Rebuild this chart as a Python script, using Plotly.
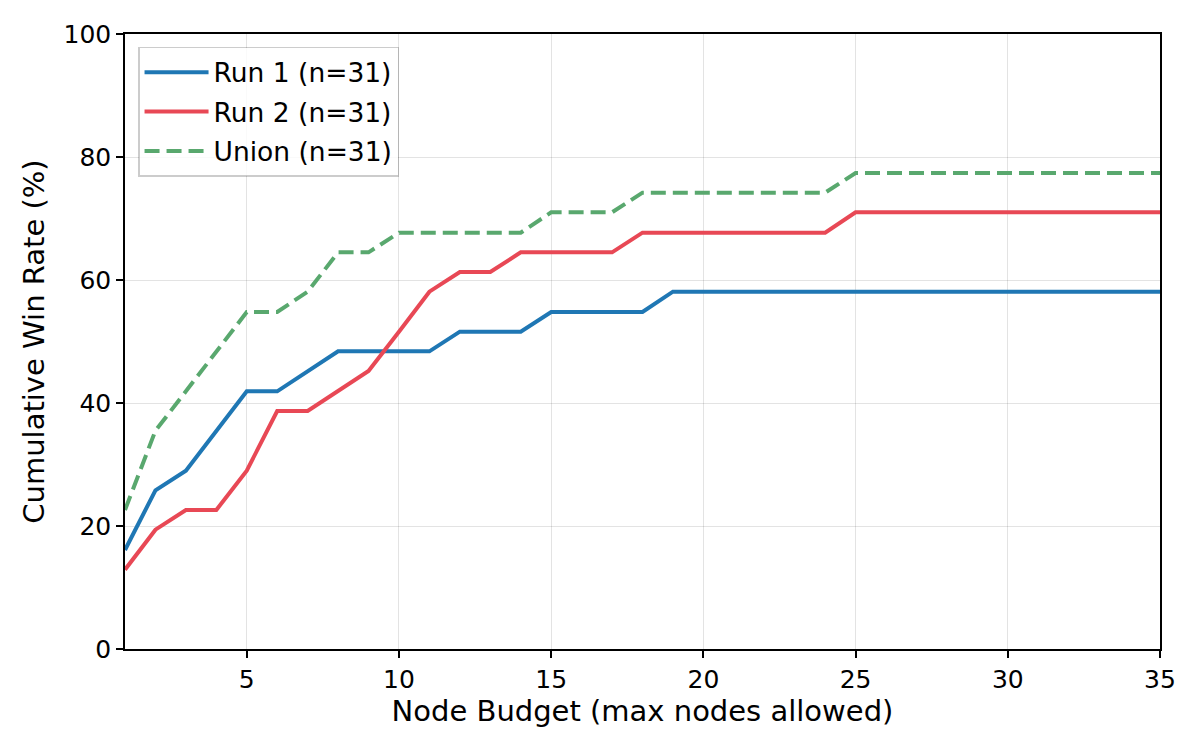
import plotly.graph_objects as go

# node budget values
budget = list(range(1, 36))

# cumulative win rate (%) per run, n=31
run1 = [16.1, 25.8, 29.0, 35.5, 41.9, 41.9, 45.2, 48.4, 48.4, 48.4, 48.4, 51.6, 51.6, 51.6,
        54.8, 54.8, 54.8, 54.8] + [58.1] * 17
run2 = [12.9, 19.4, 22.6, 22.6, 29.0, 38.7, 38.7, 41.9, 45.2, 51.6, 58.1, 61.3, 61.3, 64.5,
        64.5, 64.5, 64.5] + [67.7] * 7 + [71.0] * 11
union = [22.6, 35.5, 41.9, 48.4, 54.8, 54.8, 58.1, 64.5, 64.5, 67.7, 67.7, 67.7, 67.7, 67.7,
         71.0, 71.0, 71.0] + [74.2] * 7 + [77.4] * 11

fig = go.Figure()
fig.add_trace(go.Scatter(x=budget, y=run1, mode="lines", name="Run 1 (n=31)", legendgroup="r1",
                         line=dict(color="#1f77b4", width=4)))
fig.add_trace(go.Scatter(x=budget, y=run2, mode="lines", name="Run 2 (n=31)", legendgroup="r2",
                         line=dict(color="#e84855", width=4)))
fig.add_trace(go.Scatter(x=budget, y=union, mode="lines", name="Union (n=31)", legendgroup="u",
                         line=dict(color="#59a86e", width=4, dash="15px,7px")))

axis_style = dict(showline=True, linecolor="black", linewidth=1.5, mirror=True,
                  ticks="outside", ticklen=7, tickcolor="black", tickwidth=1.5,
                  showgrid=True, gridcolor="rgba(0,0,0,0.11)", zeroline=False,
                  tickfont=dict(size=25, color="black"))

fig.update_layout(
    width=1200, height=750,
    margin=dict(l=117, r=48, t=24, b=109),
    plot_bgcolor="white", paper_bgcolor="white",
    font=dict(family="DejaVu Sans", color="black"),
    legend=dict(x=0.0126, y=0.979, xanchor="left", yanchor="top",
                bordercolor="rgba(0,0,0,0.2)", borderwidth=1.5,
                bgcolor="rgba(255,255,255,0.8)", font=dict(size=26.5),
                itemwidth=64, tracegroupgap=2),
)
fig.update_xaxes(range=[1, 35], tickvals=[5, 10, 15, 20, 25, 30, 35],
                 title=dict(text="Node Budget (max nodes allowed)", font=dict(size=29), standoff=6),
                 **axis_style)
fig.update_yaxes(range=[0, 100], tickvals=[0, 20, 40, 60, 80, 100],
                 title=dict(text="Cumulative Win Rate (%)", font=dict(size=29), standoff=10),
                 **axis_style)

fig.write_html("out.html")
